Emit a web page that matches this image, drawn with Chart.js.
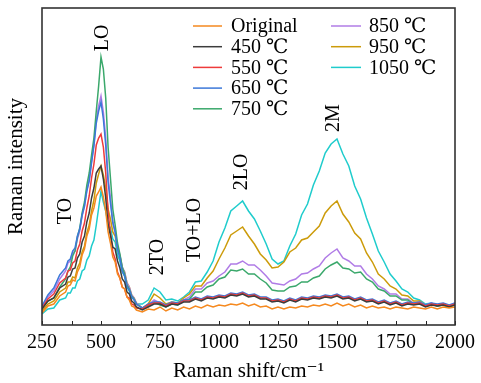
<!DOCTYPE html>
<html><head><meta charset="utf-8">
<script src="https://cdn.jsdelivr.net/npm/chart.js@4/dist/chart.umd.min.js"></script>
<style>html,body{margin:0;padding:0;background:#fff;}#wrap{width:481px;height:383px;position:relative}</style>
</head><body><div id="wrap"><canvas id="c" width="481" height="383"></canvas></div>
<script>
// Raman shift grid (cm^-1)
const ramanShift = [250,275,300,325,350,360,370,380,390,400,410,420,430,440,450,460,470,480,490,500,510,520,530,540,550,560,570,580,590,600,610,620,630,640,650,
675,700,725,750,775,800,825,850,875,900,925,950,975,1000,1025,1050,1075,1100,1125,1150,1175,1200,1225,1250,1275,1300,1325,1350,1375,1400,1425,1450,1475,1500,1525,1550,1575,1600,1625,1650,1675,1700,1725,1750,1775,1800,1825,1850,1875,1900,1925,1950,1975,2000];

// Intensities (arbitrary units)
const sOriginal = [12,19,21,29,33,39,40,45,44,53,58,70,76,89,96,110,117,129,133,138,128,114,93,82,68,63,51,47,38,36,28,25,19,18,15,
13,16,15,18,14,17,15,18,16,19,17,20,18,20,19,21,20,22,19,21,18,19,16,18,16,18,17,19,18,20,19,21,19,22,19,21,18,20,17,19,17,18,16,18,17,16,18,17,16,18,16,18,17,18];
const s450 = [16,24,27,37,41,48,49,56,57,67,71,83,89,103,112,127,137,152,156,159,146,127,100,90,78,76,64,57,46,43,33,31,24,22,18,
15,18,21,21,18,21,20,23,23,26,24,27,26,28,27,30,29,31,28,29,26,26,23,24,22,25,23,26,25,27,26,28,27,29,26,27,24,26,23,24,21,23,20,22,19,21,20,21,18,20,19,20,18,20];
const s550 = [17,26,31,42,47,54,55,62,64,75,81,94,102,117,129,147,161,180,187,191,178,152,113,92,73,66,53,47,38,36,28,27,21,20,17,
16,20,22,22,19,22,21,24,24,27,25,28,27,29,28,31,30,32,29,30,27,27,24,25,23,26,24,27,26,28,27,29,28,30,27,28,25,27,24,25,22,24,21,23,20,22,21,22,19,21,20,21,19,21];
const s650 = [19,30,37,50,57,64,66,74,77,89,96,110,119,134,144,162,179,202,214,223,206,180,143,122,102,93,76,67,54,49,38,35,28,25,21,
17,21,23,23,20,23,22,25,25,28,26,29,28,30,29,32,31,33,30,31,28,28,25,26,24,27,25,28,27,29,28,30,29,31,28,29,26,28,25,26,23,25,22,24,21,23,22,23,20,22,21,22,20,22];
const s750 = [17,24,27,38,46,54,58,69,74,88,97,112,123,140,152,170,187,214,239,268,256,227,178,147,116,100,82,71,58,51,40,36,29,26,21,
17,19,23,20,18,21,20,24,26,33,33,38,40,46,48,55,54,56,51,51,46,42,35,34,34,38,39,43,43,47,49,56,60,63,57,56,52,53,46,43,36,34,29,29,25,25,21,22,19,21,19,20,18,21];
const s850 = [17,28,34,46,54,62,64,72,74,86,94,109,119,135,146,164,181,205,219,229,213,187,148,127,104,93,78,70,58,53,42,38,30,27,22,
17,20,25,22,19,22,21,25,28,36,36,42,44,49,53,61,61,64,60,60,55,49,42,41,40,44,46,51,52,56,59,67,72,76,67,64,59,59,51,46,39,36,31,31,26,26,22,23,20,22,19,21,19,22];
const s950 = [14,21,24,33,37,43,43,48,47,57,62,73,79,92,100,114,125,142,151,159,150,137,116,106,93,89,76,69,57,53,42,38,30,27,22,
17,21,31,27,21,23,22,27,31,39,39,47,54,66,77,90,94,98,89,81,71,65,57,58,63,73,77,85,87,93,99,112,119,124,111,103,92,86,72,63,51,46,39,36,30,29,24,24,20,21,19,20,18,20];
const s1050 = [11,16,17,25,27,32,32,37,37,44,46,54,56,65,69,79,85,100,117,134,123,114,101,97,86,83,70,64,53,49,38,34,27,26,21,
21,25,37,33,25,26,24,28,33,43,44,53,64,83,97,114,119,124,114,106,94,81,66,61,64,79,91,110,121,140,154,172,181,186,171,159,139,126,107,91,74,63,51,44,36,33,27,25,21,22,19,21,18,21];

const seriesNames = ['Original','450 \u2103','550 \u2103','650 \u2103','750 \u2103','850 \u2103','950 \u2103','1050 \u2103'];
const seriesColors = ['#f5891f','#3c3c3c','#ee3b3b','#3c78d8','#3aa86b','#b07ce6','#cc9b0a','#1fcccc'];
const seriesValues = [sOriginal,s450,s550,s650,s750,s850,s950,s1050];

const tickLabels = ['250','500','750','1000','1250','1500','1750','2000'];

const peakNames = ['TO','LO','2TO','TO+LO','2LO','2M'];
const peakShift = [346,502,737,892,1093,1480];
const peakLevel = [114,287,68,95,153,207];

const FONT = '"Liberation Serif", "DejaVu Serif", serif';

const datasets = seriesValues.map((vals,i)=>({
  label: seriesNames[i],
  data: ramanShift.map((x,j)=>({x:x,y:vals[j]})),
  borderColor: seriesColors[i],
  backgroundColor: seriesColors[i],
  borderWidth: 1.5,
  pointRadius: 0,
  tension: 0,
  fill: false
}));

const decor = {
  id:'decor',
  afterDraw(chart){
    const ctx = chart.ctx, a = chart.chartArea;
    const xs = chart.scales.x, ys = chart.scales.y;
    ctx.save();
    // inward ticks
    ctx.strokeStyle = '#222'; ctx.lineWidth = 1;
    xs.ticks.forEach(t=>{
      const px = Math.round(xs.getPixelForValue(t.value))+0.5;
      ctx.beginPath(); ctx.moveTo(px,a.bottom); ctx.lineTo(px,a.bottom-4); ctx.stroke();
    });
    // frame
    ctx.strokeStyle = '#333'; ctx.lineWidth = 1.6;
    ctx.strokeRect(a.left, a.top, a.right-a.left, a.bottom-a.top);
    // peak labels
    ctx.fillStyle = '#000';
    ctx.font = '20px ' + FONT;
    ctx.textAlign = 'center'; ctx.textBaseline = 'middle';
    peakNames.forEach((n,i)=>{
      const px = xs.getPixelForValue(peakShift[i]);
      const py = ys.getPixelForValue(peakLevel[i]);
      ctx.save(); ctx.translate(px,py); ctx.rotate(-Math.PI/2);
      ctx.fillText(n,0,1); ctx.restore();
    });
    // legend (two columns)
    ctx.textAlign = 'left';
    const cols = [{l1:193,l2:222,tx:231},{l1:331,l2:361,tx:369}];
    seriesNames.forEach((n,i)=>{
      const c = i<5 ? cols[0] : cols[1];
      const r = i<5 ? i : i-5;
      const y = 26 + r*20.7;
      ctx.strokeStyle = seriesColors[i]; ctx.lineWidth = 1.5;
      ctx.beginPath(); ctx.moveTo(c.l1,y); ctx.lineTo(c.l2,y); ctx.stroke();
      ctx.fillStyle = '#000';
      ctx.fillText(n,c.tx,y+1);
    });
    ctx.restore();
  }
};

new Chart(document.getElementById('c'),{
  type:'line',
  data:{datasets:datasets},
  options:{
    responsive:false,
    animation:false,
    devicePixelRatio:1,
    layout:{padding:{top:8,right:22,bottom:0,left:0}},
    plugins:{legend:{display:false},tooltip:{enabled:false}},
    scales:{
      x:{
        type:'linear', min:250, max:2000,
        grid:{display:false, drawTicks:false},
        border:{display:false},
        ticks:{stepSize:125, autoSkip:false, maxRotation:0, padding:6, color:'#000',
          font:{family:FONT, size:20},
          callback:(v)=> tickLabels.includes(String(v)) ? String(v) : ''},
        title:{display:true, text:'Raman shift/cm\u207B\u00B9', color:'#000', padding:0,
          font:{family:FONT, size:21, lineHeight:1.1}},
        afterFit:(s)=>{s.height = 58;}
      },
      y:{
        type:'linear', min:0, max:317,
        grid:{display:false, drawTicks:false},
        border:{display:false},
        ticks:{display:false},
        title:{display:true, text:'Raman intensity', color:'#000', padding:{top:5,bottom:0},
          font:{family:FONT, size:21, lineHeight:1.1}},
        afterFit:(s)=>{s.width = 42;}
      }
    }
  },
  plugins:[decor]
});
</script>
</body></html>
